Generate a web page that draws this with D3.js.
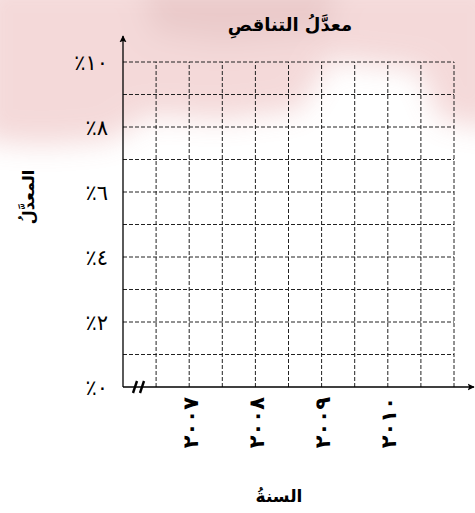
<!DOCTYPE html>
<html>
<head>
<meta charset="utf-8">
<script src="https://cdn.jsdelivr.net/npm/d3@7"></script>
<style>
  body { margin: 0; background: #fff; }
  svg { display: block; }
  .grid line { stroke: #222; stroke-width: 1; stroke-dasharray: 4 2; }
  text { font-family: "DejaVu Sans", "Noto Sans", sans-serif; fill: #000; }
</style>
</head>
<body>
<svg id="chart" width="475" height="513"></svg>
<script>
// chart data
var chartTitle = "معدَّلُ التناقصِ";
var yTitle = "المعدَّلُ";
var xTitle = "السنةُ";
var years = [2007, 2008, 2009, 2010];
var yTickValues = [0, 2, 4, 6, 8, 10];
var yGridValues = [1, 2, 3, 4, 5, 6, 7, 8, 9, 10];
var xGridValues = [2006.5, 2007, 2007.5, 2008, 2008.5, 2009, 2009.5, 2010, 2010.5, 2011];

var arDigits = "٠١٢٣٤٥٦٧٨٩";
var toArabic = function (n) {
    return String(n).replace(/[0-9]/g, function (c) { return arDigits[+c]; });
};

var svg = d3.select("#chart");

// soft reddish background patch at the top
var defs = svg.append("defs");
defs.append("filter").attr("id", "blur")
    .attr("x", "-20%").attr("y", "-20%").attr("width", "140%").attr("height", "140%")
    .append("feGaussianBlur").attr("stdDeviation", 14);
var bg = svg.append("g").attr("filter", "url(#blur)").style("opacity", 0.25);
bg.append("path")
    .attr("d", "M-20,-20 L500,-20 L500,130 L440,120 L420,70 L330,60 L300,110 L220,120 L150,115 L110,140 L40,145 L-20,140 Z")
    .style("fill", "#d46a6a");
bg.append("path")
    .attr("d", "M140,-20 L340,-20 L330,35 L220,45 L150,35 Z")
    .style("fill", "#b03030");

var x = d3.scaleLinear().domain([2006, 2011]).range([123, 454]);
var y = d3.scaleLinear().domain([0, 10]).range([387, 62]);

// dashed grid
var grid = svg.append("g").attr("class", "grid");
grid.selectAll("line.h")
    .data(yGridValues)
    .enter().append("line")
    .attr("class", "h")
    .attr("x1", x(2006)).attr("x2", x(2011))
    .attr("y1", function (d) { return y(d); })
    .attr("y2", function (d) { return y(d); });
grid.selectAll("line.v")
    .data(xGridValues)
    .enter().append("line")
    .attr("class", "v")
    .attr("x1", function (d) { return x(d); })
    .attr("x2", function (d) { return x(d); })
    .attr("y1", y(0)).attr("y2", y(10));

// axes with arrows
defs.append("marker")
    .attr("id", "arrow")
    .attr("viewBox", "0 0 10 10")
    .attr("refX", 9).attr("refY", 5)
    .attr("markerWidth", 7).attr("markerHeight", 8)
    .attr("markerUnits", "userSpaceOnUse")
    .attr("orient", "auto")
    .append("path")
    .attr("d", "M0,0 L10,5 L0,10 L2,5 Z")
    .style("fill", "#000");

svg.append("line")
    .attr("x1", x(2006)).attr("y1", y(0))
    .attr("x2", x(2006)).attr("y2", 36)
    .style("stroke", "#000").style("stroke-width", 1.3)
    .attr("marker-end", "url(#arrow)");
svg.append("line")
    .attr("x1", x(2006)).attr("y1", y(0))
    .attr("x2", 474).attr("y2", y(0))
    .style("stroke", "#000").style("stroke-width", 1.3)
    .attr("marker-end", "url(#arrow)");

// axis break
svg.selectAll("line.brk")
    .data([0, 7])
    .enter().append("line")
    .attr("class", "brk")
    .attr("x1", function (d) { return x(2006) + 10 + d; })
    .attr("y1", y(0) + 6)
    .attr("x2", function (d) { return x(2006) + 14 + d; })
    .attr("y2", y(0) - 6)
    .style("stroke", "#000").style("stroke-width", 2.4);

// y tick labels
svg.selectAll("text.ytick")
    .data(yTickValues)
    .enter().append("text")
    .attr("class", "ytick")
    .attr("x", 108)
    .attr("y", function (d) { return y(d); })
    .attr("dy", "0.4em")
    .style("text-anchor", "end")
    .style("font-size", "21px")
    .text(function (d) { return "٪" + toArabic(d); });

// x tick labels (years, rotated)
svg.selectAll("text.xtick")
    .data(years)
    .enter().append("text")
    .attr("class", "xtick")
    .attr("transform", function (d) { return "translate(" + x(d) + ",397) rotate(-90)"; })
    .attr("dy", "0.4em")
    .style("text-anchor", "end")
    .style("font-size", "21px")
    .style("font-weight", "bold")
    .text(function (d) { return toArabic(d); });

// titles
svg.append("text")
    .attr("x", 290).attr("y", 31)
    .style("text-anchor", "middle")
    .style("font-size", "18px")
    .style("font-weight", "bold")
    .attr("direction", "rtl")
    .text(chartTitle);

svg.append("text")
    .attr("transform", "translate(28,197) rotate(-90)")
    .attr("dy", "0.35em")
    .style("text-anchor", "middle")
    .style("font-size", "16px")
    .style("font-weight", "bold")
    .text(yTitle);

svg.append("text")
    .attr("x", 279).attr("y", 502)
    .style("text-anchor", "middle")
    .style("font-size", "17px")
    .style("font-weight", "bold")
    .text(xTitle);
</script>
</body>
</html>
